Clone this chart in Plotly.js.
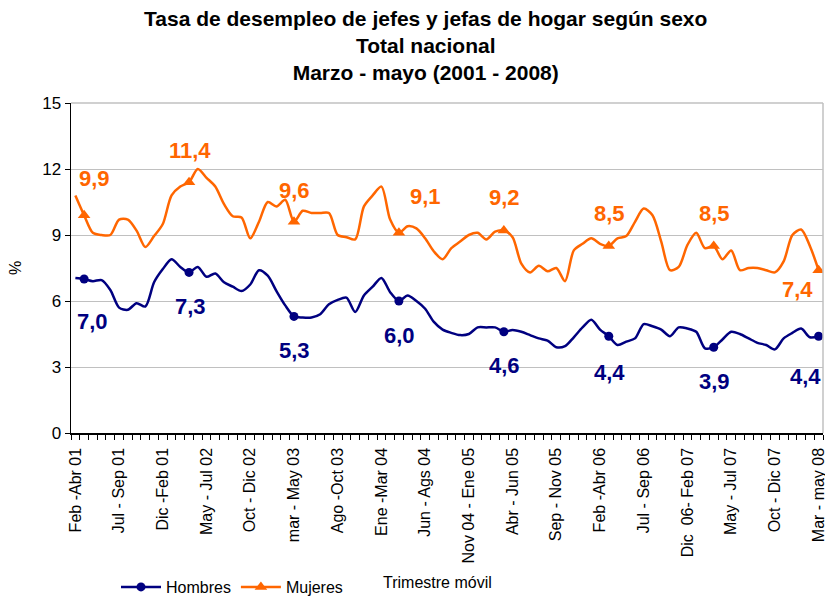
<!DOCTYPE html>
<html><head><meta charset="utf-8">
<script src="https://cdn.plot.ly/plotly-3.0.1.min.js"></script>
<style>html,body{margin:0;padding:0;background:#fff}#chart{width:825px;height:596px}</style>
</head><body><div id="chart"></div>
<script>
// Visible tick labels (every 5th rolling quarter, starting at the first)
const tickLabels = ["Feb -Abr 01","Jul - Sep 01","Dic -Feb 01","May - Jul 02","Oct - Dic 02",
  "mar - May 03","Ago -Oct 03","Ene -Mar 04","Jun - Ags 04","Nov 04 - Ene 05","Abr - Jun 05",
  "Sep - Nov 05","Feb -Abr 06","Jul - Sep 06","Dic  06- Feb 07","May - Jul 07","Oct - Dic 07","Mar - may 08"];
const tickStep = 5;

const hombres = [7.05,7.0,6.9,6.95,6.5,5.7,5.6,5.9,5.75,6.85,
  7.45,7.9,7.55,7.3,7.55,7.1,7.25,6.85,6.65,6.45,
  6.75,7.4,7.15,6.45,5.8,5.3,5.25,5.25,5.4,5.85,
  6.05,6.15,5.5,6.25,6.65,7.05,6.4,6.0,6.25,6.0,
  5.65,5.05,4.7,4.55,4.45,4.5,4.8,4.8,4.8,4.6,
  4.68,4.6,4.45,4.3,4.2,3.9,3.95,4.35,4.8,5.15,
  4.7,4.4,4.0,4.15,4.3,4.95,4.85,4.7,4.4,4.8,
  4.75,4.6,3.85,3.9,4.25,4.6,4.5,4.3,4.1,4.0,
  3.8,4.3,4.55,4.75,4.35,4.4];

const mujeres = [10.8,9.9,9.1,9.0,9.0,9.7,9.7,9.2,8.45,8.95,
  9.5,10.8,11.2,11.4,12.0,11.6,11.2,10.4,9.85,9.8,
  8.85,9.6,10.5,10.3,10.6,9.6,10.1,10.0,10.0,10.0,
  9.0,8.9,8.8,10.3,10.8,11.2,9.7,9.1,9.4,9.3,
  8.85,8.25,7.9,8.4,8.7,9.0,9.1,8.8,9.15,9.2,
  8.9,7.7,7.3,7.6,7.35,7.5,6.9,8.3,8.6,8.85,
  8.6,8.5,8.85,8.95,9.6,10.2,9.9,8.7,7.4,7.55,
  8.55,9.1,8.4,8.5,7.9,8.3,7.4,7.5,7.5,7.4,
  7.3,7.8,9.0,9.25,8.5,7.4];

// Marked points: Marzo - mayo of each year
const markerIdx = [1,13,25,37,49,61,73,85];

// Label offsets in pixels (style only): [dx, dy downwards]
const hombresLabelOffset = [[8,42],[1,34],[1,34],[1,34],[1,34],[1,36],[1,34],[-13,40]];
const mujeresLabelOffset = [[10,-37],[1,-32],[1,-31],[27,-36],[1,-33],[1,-33],[1,-33],[-21,19]];

const navy = '#000080', orange = '#FF6600';
const fontFam = 'Arial, "Liberation Sans", sans-serif';

const xIdx = hombres.map((_, i) => i);
const fmt = v => v.toFixed(1).replace('.', ',');

const traces = [
  {x: xIdx, y: hombres, mode: 'lines', line: {color: navy, width: 2.5, shape: 'spline', smoothing: 0.8}, showlegend: false, hoverinfo: 'skip'},
  {x: xIdx, y: mujeres, mode: 'lines', line: {color: orange, width: 2.5, shape: 'spline', smoothing: 0.8}, showlegend: false, hoverinfo: 'skip'},
  {x: markerIdx, y: markerIdx.map(i => hombres[i]), mode: 'markers', marker: {color: navy, size: 9, symbol: 'circle'}, showlegend: false},
  {x: markerIdx, y: markerIdx.map(i => mujeres[i]), mode: 'markers', marker: {color: orange, size: 11, symbol: 'triangle-up'}, showlegend: false},
  {x: [null], y: [null], name: 'Hombres', mode: 'lines+markers', line: {color: navy, width: 2.5}, marker: {color: navy, size: 9, symbol: 'circle'}},
  {x: [null], y: [null], name: 'Mujeres', mode: 'lines+markers', line: {color: orange, width: 2.5}, marker: {color: orange, size: 11, symbol: 'triangle-up'}}
];

const annotations = [];
markerIdx.forEach((i, k) => {
  annotations.push({x: i, y: hombres[i], xref: 'x', yref: 'y', text: fmt(hombres[i]), showarrow: false,
    xshift: hombresLabelOffset[k][0], yshift: -hombresLabelOffset[k][1],
    font: {family: fontFam, size: 22, color: navy, weight: 700}});
  annotations.push({x: i, y: mujeres[i], xref: 'x', yref: 'y', text: fmt(mujeres[i]), showarrow: false,
    xshift: mujeresLabelOffset[k][0], yshift: -mujeresLabelOffset[k][1],
    font: {family: fontFam, size: 22, color: orange, weight: 700}});
});
annotations.push({x: 0.487, y: -0.4545, xref: 'paper', yref: 'paper', text: 'Trimestre móvil', showarrow: false,
  xanchor: 'center', yanchor: 'middle', font: {family: fontFam, size: 16, color: '#000'}});

const layout = {
  width: 825, height: 596,
  margin: {l: 71, r: 2, t: 103, b: 163},
  paper_bgcolor: '#fff', plot_bgcolor: '#fff',
  font: {family: fontFam, color: '#000', size: 16},
  title: {text: 'Tasa de desempleo de jefes y jefas de hogar según sexo<br>Total nacional<br>Marzo - mayo (2001 - 2008)',
    x: 0.516, xanchor: 'center', y: 0.957, yanchor: 'top',
    font: {family: fontFam, size: 21, color: '#000', weight: 700}},
  xaxis: {
    range: [-0.5, hombres.length - 0.5],
    automargin: false,
    tickmode: 'array',
    tickvals: tickLabels.map((_, k) => k * tickStep),
    ticktext: tickLabels,
    tickangle: -90,
    ticks: '', showgrid: false, zeroline: false,
    showline: true, linecolor: '#000', linewidth: 1.5,
    tickfont: {family: fontFam, size: 16, color: '#000'},
    ticklabelstandoff: 7,
    ticklabeloverflow: 'allow',
    minor: {tickmode: 'linear', tick0: -0.5, dtick: 1, ticks: 'outside', ticklen: 5, tickcolor: '#000', tickwidth: 1, showgrid: false},
    fixedrange: true
  },
  yaxis: {
    range: [0, 15], dtick: 3, tick0: 0,
    automargin: false,
    ticks: 'outside', ticklen: 5, tickcolor: '#000',
    showgrid: true, gridcolor: '#c0c0c0', gridwidth: 1, zeroline: false,
    showline: true, linecolor: '#000', linewidth: 1.5,
    tickfont: {family: fontFam, size: 17, color: '#000'},
    title: {text: '%', font: {family: fontFam, size: 16, color: '#000'}, standoff: 16},
    fixedrange: true
  },
  shapes: [
    {type: 'line', xref: 'paper', yref: 'paper', x0: 0, x1: 1, y0: 1, y1: 1, line: {color: '#c0c0c0', width: 1.5}},
    {type: 'line', xref: 'paper', yref: 'paper', x0: 1, x1: 1, y0: 0, y1: 1, line: {color: '#c0c0c0', width: 1.5}}
  ],
  legend: {orientation: 'h', xref: 'container', yref: 'container', x: 0.1406, xanchor: 'left', y: 0.0151, yanchor: 'middle',
    font: {family: fontFam, size: 16, color: '#000'}, itemwidth: 40, bgcolor: 'rgba(0,0,0,0)'},
  annotations: annotations,
  showlegend: true
};

Plotly.newPlot('chart', traces, layout, {displayModeBar: false, staticPlot: true});
</script>
</body></html>
